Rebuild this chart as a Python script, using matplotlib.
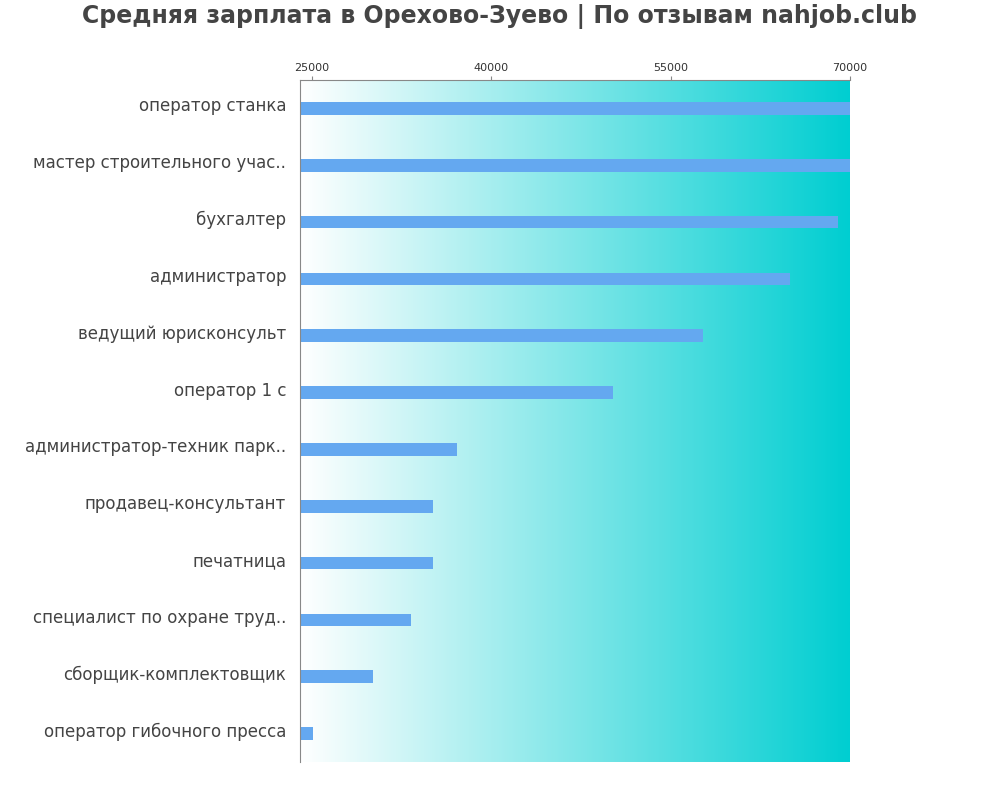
import matplotlib
matplotlib.use("Agg")
import os
import matplotlib.pyplot as plt
import numpy as np
from matplotlib.colors import LinearSegmentedColormap
from matplotlib.font_manager import FontProperties

fdir = os.path.join(matplotlib.get_data_path(), "fonts", "ttf")
reg = os.path.join(fdir, "DejaVuSans.ttf")
bold = os.path.join(fdir, "DejaVuSans-Bold.ttf")

categories = ["оператор станка", "мастер строительного учас..", "бухгалтер", "администратор",
              "ведущий юрисконсульт", "оператор 1 с", "администратор-техник парк..",
              "продавец-консультант", "печатница", "специалист по охране труд..",
              "сборщик-комплектовщик", "оператор гибочного пресса"]
values = [70000, 70000, 69000, 65000, 57700, 50150, 37100, 35150, 35150, 33300, 30100, 25100]
ticks = [25000, 40000, 55000, 70000]
xmin, xmax = 24000, 70000

fig = plt.figure(figsize=(10, 8), dpi=100)
ax = fig.add_axes([0.3, 0.0475, 0.55, 0.8525])
n = len(categories)
grad = np.linspace(0, 1, 256).reshape(1, -1)
cmap = LinearSegmentedColormap.from_list("g", ["#ffffff", "#00ced1"])
ax.imshow(grad, cmap=cmap, aspect="auto", extent=[xmin, xmax, n - 0.5, -0.5], zorder=0)
y = np.arange(n)
ax.barh(y, [v - xmin for v in values], left=xmin, height=0.22, color="#64a8f0", zorder=2)
ax.set_xlim(xmin, xmax)
ax.set_ylim(n - 0.5, -0.5)
ax.xaxis.tick_top()
ax.set_xticks(ticks)
ax.set_xticklabels([str(t) for t in ticks], fontproperties=FontProperties(fname=reg, size=8), color="#333333")
ax.tick_params(axis="x", length=3, color="#888888", pad=2)
ax.set_yticks(y - 0.07)
ax.set_yticklabels(categories, fontproperties=FontProperties(fname=reg, size=12), color="#444444")
ax.tick_params(axis="y", length=0, pad=10)
for s in ["right", "bottom"]:
    ax.spines[s].set_visible(False)
for s in ["left", "top"]:
    ax.spines[s].set_color("#888888")
fig.suptitle("Средняя зарплата в Орехово-Зуево | По отзывам nahjob.club",
             fontproperties=FontProperties(fname=bold, size=17),
             color="#444444", y=0.995, x=0.5)
fig.savefig("out.png")
